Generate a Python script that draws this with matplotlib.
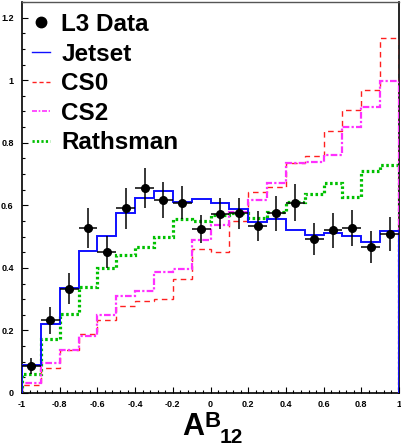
import numpy as np
import matplotlib
matplotlib.use('Agg')
import matplotlib.pyplot as plt
from matplotlib.lines import Line2D
from matplotlib.ticker import MultipleLocator, FuncFormatter

plt.rcParams['font.family'] = ['Liberation Sans', 'DejaVu Sans']

# 20 bins in A^B_12 from -1 to 1
edges = np.linspace(-1.0, 1.0, 21)
centers = 0.5 * (edges[:-1] + edges[1:])
half_width = [0.05] * 20

# L3 data points and errors
data_y = [0.087, 0.232, 0.333, 0.528, 0.450, 0.590, 0.656, 0.617, 0.609, 0.525,
          0.573, 0.575, 0.533, 0.575, 0.609, 0.493, 0.520, 0.527, 0.468, 0.508]
data_err = [0.025, 0.044, 0.050, 0.065, 0.051, 0.065, 0.063, 0.059, 0.053, 0.045,
            0.049, 0.050, 0.048, 0.056, 0.060, 0.052, 0.057, 0.057, 0.051, 0.054]

# model predictions
jetset = [0.088, 0.220, 0.335, 0.454, 0.503, 0.575, 0.625, 0.646, 0.610, 0.619,
          0.606, 0.587, 0.548, 0.556, 0.521, 0.505, 0.512, 0.502, 0.483, 0.519]
cs0 = [0.025, 0.079, 0.137, 0.190, 0.233, 0.278, 0.295, 0.300, 0.365, 0.460,
       0.450, 0.550, 0.644, 0.657, 0.735, 0.759, 0.837, 0.904, 0.969, 1.134]
cs2 = [0.033, 0.096, 0.136, 0.183, 0.249, 0.311, 0.327, 0.388, 0.395, 0.489,
       0.537, 0.580, 0.616, 0.671, 0.735, 0.740, 0.760, 0.850, 0.913, 0.997]
rathsman = [0.062, 0.172, 0.252, 0.339, 0.399, 0.441, 0.468, 0.498, 0.557, 0.551,
            0.570, 0.575, 0.559, 0.579, 0.610, 0.636, 0.671, 0.628, 0.711, 0.730]

fig = plt.figure(figsize=(4.01, 4.47), dpi=100)
ax = fig.add_axes([22 / 401, 54 / 447, 377 / 401, 391 / 447])

# histograms (baseline=0 gives the vertical edges at -1 and 1)
ax.stairs(rathsman, edges, baseline=0, color='#00c000', lw=2.3, ls=(0, (0.8, 0.8)), zorder=2)
ax.stairs(cs0, edges, baseline=0, color='#ff2020', lw=1.0, ls=(0, (4, 3)), zorder=3)
ax.stairs(cs2, edges, baseline=0, color='#ff30ff', lw=1.6, ls=(0, (3, 1, 1, 1)), zorder=3)
ax.stairs(jetset, edges, baseline=0, color='#1010ff', lw=1.4, zorder=4)

# data
ax.errorbar(centers, data_y, yerr=data_err, xerr=half_width, fmt='o', color='black',
            ms=5.5, elinewidth=1.1, capsize=0, zorder=5)

ax.set_xlim(-1, 1)
ax.set_ylim(0, 1.25)

ax.xaxis.set_major_locator(MultipleLocator(0.2))
ax.xaxis.set_minor_locator(MultipleLocator(0.04))
ax.yaxis.set_major_locator(MultipleLocator(0.2))
ax.yaxis.set_minor_locator(MultipleLocator(0.05))
fmt = FuncFormatter(lambda v, p: '%g' % round(v, 2))
ax.xaxis.set_major_formatter(fmt)
ax.yaxis.set_major_formatter(fmt)

ax.tick_params(which='both', direction='in', top=False, right=False, width=0.8)
ax.tick_params(which='major', length=4.5, labelsize=6.5)
ax.tick_params(which='minor', length=2.5)
ax.tick_params(axis='x', which='major', pad=5)
ax.tick_params(axis='y', which='major', pad=6)
for lab in ax.get_xticklabels() + ax.get_yticklabels():
    lab.set_fontweight('bold')

for s in ['left', 'bottom', 'right']:
    ax.spines[s].set_linewidth(1.2)
ax.spines['top'].set_color('#555555')
ax.spines['top'].set_linewidth(1.0)

# legend
handles = [
    Line2D([], [], ls='none', marker='o', color='black', ms=7.5),
    Line2D([], [], color='#1010ff', lw=1.0),
    Line2D([], [], color='#ff2020', lw=1.0, ls=(0, (3, 2))),
    Line2D([], [], color='#ff30ff', lw=1.2, ls=(0, (3, 1, 1, 1))),
    Line2D([], [], color='#00c000', lw=2.0, ls=(0, (0.8, 0.8))),
]
labels = ['L3 Data', 'Jetset', 'CS0', 'CS2', 'Rathsman']
ax.legend(handles, labels, loc='upper left', frameon=False,
          prop={'weight': 'bold', 'size': 17.5}, handlelength=0.74,
          handletextpad=0.45, labelspacing=0.27, borderaxespad=0.0, borderpad=0.0,
          bbox_to_anchor=(0.027, 0.972))

# axis title A^B_12
fig.text(182 / 401, 1 - 435 / 447, 'A', fontsize=22, fontweight='bold', va='baseline')
fig.text(205 / 401, 1 - 427 / 447, 'B', fontsize=16, fontweight='bold', va='baseline')
fig.text(220 / 401, 1 - 443 / 447, '12', fontsize=15, fontweight='bold', va='baseline')

fig.savefig('out.png', dpi=100)
